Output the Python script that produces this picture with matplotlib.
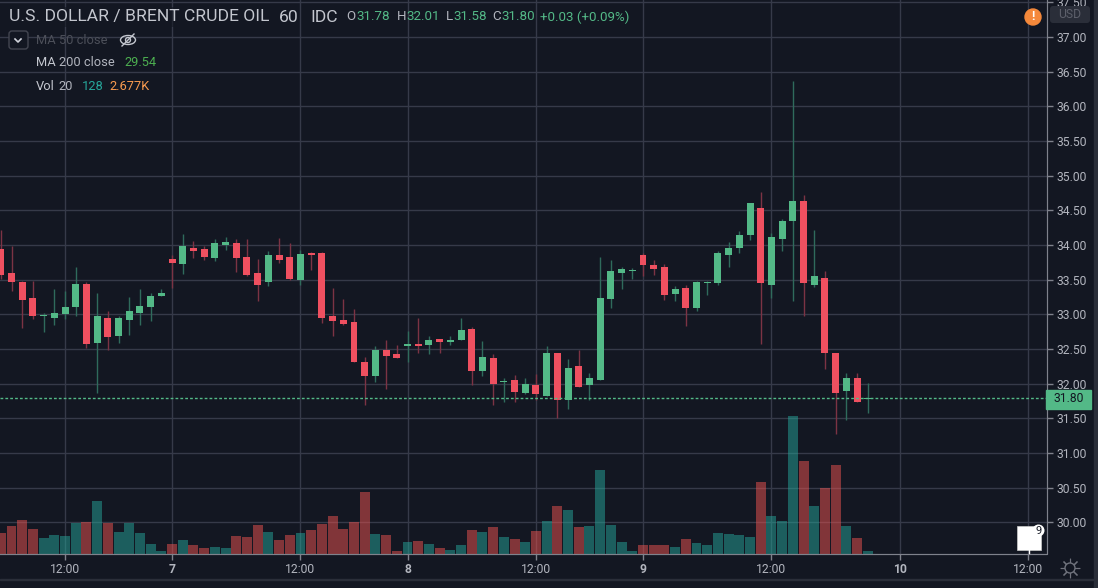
import matplotlib
matplotlib.use('Agg')
import matplotlib.pyplot as plt
from matplotlib.patches import Circle, Ellipse, FancyBboxPatch, Rectangle

plt.rcParams['font.family'] = ['Roboto', 'DejaVu Sans']

# Hourly candles
opens = [33.94, 33.60, 33.47, 33.24, 32.97, 32.95, 33.00, 33.11, 33.44, 32.59, 32.95, 32.69, 32.92, 33.02,
         33.10, 33.27, 33.80, 33.73, 33.96, 33.94, 33.81, 34.00, 34.03, 33.83, 33.60, 33.46, 33.86, 33.83,
         33.50, 33.89, 33.89, 32.97, 32.92, 32.89, 32.32, 32.11, 32.48, 32.43, 32.54, 32.57, 32.56, 32.64,
         32.60, 32.63, 32.79, 32.18, 32.37, 32.02, 32.06, 31.86, 31.98, 31.83, 32.45, 31.76, 32.25, 31.98,
         32.06, 33.22, 33.60, 33.63, 33.85, 33.71, 33.69, 33.30, 33.38, 33.09, 33.45, 33.45, 33.86, 33.95,
         34.14, 34.54, 33.43, 34.09, 34.34, 34.63, 33.43, 33.53, 32.45, 31.89, 32.09, 31.78]
highs = [34.22, 33.99, 33.48, 33.48, 33.02, 33.37, 33.34, 33.69, 33.47, 33.31, 33.05, 32.98, 33.25, 33.37,
         33.31, 33.37, 33.86, 34.16, 34.06, 33.99, 34.09, 34.12, 34.09, 34.09, 33.80, 33.92, 34.10, 34.03,
         33.93, 33.90, 33.90, 33.38, 33.22, 33.08, 32.38, 32.54, 32.63, 32.56, 32.76, 32.95, 32.69, 32.64,
         32.69, 32.95, 32.82, 32.61, 32.43, 32.09, 32.12, 32.08, 32.14, 32.54, 32.45, 32.35, 32.48, 32.15,
         33.83, 33.79, 33.69, 33.67, 33.89, 33.79, 33.73, 33.41, 33.43, 33.48, 33.48, 33.92, 34.05, 34.20,
         34.60, 34.77, 34.18, 34.38, 36.36, 34.72, 34.21, 33.62, 32.45, 32.15, 32.15, 32.01]
lows = [33.51, 33.33, 32.81, 32.94, 32.75, 32.85, 32.94, 32.97, 32.51, 31.87, 32.49, 32.59, 32.71, 32.84,
        32.91, 33.27, 33.38, 33.58, 33.81, 33.79, 33.77, 33.93, 33.61, 33.56, 33.20, 33.41, 33.74, 33.50,
        33.43, 33.64, 32.87, 32.69, 32.85, 32.31, 31.70, 32.02, 31.93, 32.37, 32.32, 32.44, 32.43, 32.44,
        32.56, 32.63, 31.98, 32.11, 31.69, 31.74, 31.74, 31.85, 31.76, 31.82, 31.50, 31.64, 31.95, 31.77,
        32.06, 33.09, 33.37, 33.51, 33.56, 33.57, 33.21, 33.19, 32.83, 33.05, 33.28, 33.42, 33.68, 33.88,
        34.07, 32.57, 33.24, 33.91, 33.19, 32.98, 33.39, 32.21, 31.27, 31.48, 31.74, 31.58]
closes = [33.57, 33.47, 33.21, 32.98, 32.98, 33.02, 33.11, 33.44, 32.58, 32.97, 32.68, 32.95, 33.05, 33.12,
          33.27, 33.31, 33.74, 33.99, 33.92, 33.83, 34.03, 34.04, 33.81, 33.57, 33.43, 33.86, 33.79, 33.51,
          33.87, 33.86, 32.95, 32.91, 32.86, 32.32, 32.11, 32.48, 32.40, 32.37, 32.58, 32.54, 32.63, 32.60,
          32.63, 32.77, 32.18, 32.38, 32.00, 32.03, 31.88, 31.99, 31.85, 32.44, 31.77, 32.22, 31.96, 32.09,
          33.24, 33.63, 33.66, 33.64, 33.71, 33.66, 33.28, 33.37, 33.09, 33.47, 33.47, 33.89, 33.95, 34.14,
          34.60, 33.45, 34.12, 34.34, 34.64, 33.45, 33.56, 32.44, 31.87, 32.09, 31.74, 31.80]
volumes = [1116, 1482, 1812, 1336, 842, 988, 952, 1684, 1738, 2855, 1665, 1153, 1684, 1116,
           512, 128, 494, 732, 458, 293, 348, 329, 952, 915, 1574, 1171, 750, 1025,
           1116, 1299, 1610, 2050, 1354, 1720, 3367, 1061, 1006, 128, 640, 677, 531, 293,
           183, 458, 1281, 1153, 1446, 897, 787, 604, 1208, 1793, 2580, 2361, 1427, 1501,
           4575, 1556, 604, 128, 458, 458, 458, 348, 787, 549, 458, 1098, 1061, 1006,
           897, 3898, 2031, 1757, 7558, 5051, 2599, 3587, 4850, 1519, 842, 128]

last_price = 31.80
price_ticks = [30.0, 30.5, 31.0, 31.5, 32.0, 32.5, 33.0, 33.5, 34.0, 34.5, 35.0, 35.5, 36.0, 36.5, 37.0, 37.5]
time_ticks = [6, 16, 28, 38, 50, 60, 72, 84, 96]
time_labels = ['12:00', '7', '12:00', '8', '12:00', '9', '12:00', '10', '12:00']

BG = '#131722'
GRID = '#363a49'
AXIS = '#7f828c'
TEXT = '#b2b5be'
UP = '#53b987'
DOWN = '#ef5060'
UP_WICK = '#2f6b5c'
DOWN_WICK = '#7c3344'
FRAME = '#2a2e39'

fig = plt.figure(figsize=(10.98, 5.88), dpi=100, facecolor=BG)

# Frame bits behind everything: strip down the right side, thin line along the bottom
back = fig.add_axes([0, 0, 1, 1], zorder=-1, facecolor='none')
back.set_xlim(0, 1098)
back.set_ylim(588, 0)
back.axis('off')
back.add_patch(Rectangle((1093.5, 0), 5, 588, color=FRAME))
back.add_patch(Rectangle((0, 579), 1094, 1, color=FRAME))

# Chart area runs to x=1046 and y=553 in pixels
ax = fig.add_axes([0, 1 - 553.5 / 588, 1046.5 / 1098, 553.5 / 588], facecolor=BG)
ax_vol = ax.twinx()

x = list(range(len(opens)))
up = [c >= o for o, c in zip(opens, closes)]

# Volume bars sit under the candles and let the grid show through
ax_vol.bar(x, volumes, width=0.93, color=['#26a69a' if u else '#ef5350' for u in up], alpha=0.5, linewidth=0)
ax_vol.set_yticks([])
ax_vol.set_ylim(0, 30360)

# Candles
wick_colors = [UP_WICK if u else DOWN_WICK for u in up]
body_colors = [UP if u else DOWN for u in up]
ax.vlines(x, lows, highs, colors=wick_colors, linewidth=1, zorder=3)
bottoms = [min(o, c) for o, c in zip(opens, closes)]
heights = [max(abs(c - o), 0.015) for o, c in zip(opens, closes)]
ax.bar(x, heights, bottom=bottoms, width=0.65, color=body_colors, linewidth=0, zorder=4)
ax.axhline(last_price, color=UP, linewidth=1, linestyle=(0, (2, 1.5)), zorder=5)

ax.set_axisbelow(True)
ax.grid(True, color=GRID, linewidth=1)
ax.set_yticks(price_ticks)
ax.set_yticklabels(['%.2f' % p for p in price_ticks])
ax.yaxis.tick_right()
ax.set_xticks(time_ticks)
ax.set_xticklabels(time_labels)
ax.set_xlim(-0.075, 97.7)
ax.set_ylim(29.553, 37.532)
ax.tick_params(axis='both', colors=AXIS, labelcolor=TEXT, labelsize=8.7, length=4, width=1)
ax.tick_params(axis='x', pad=2.7)
for lab in ax.get_xticklabels():
    if lab.get_text() != '12:00':
        lab.set_fontweight('bold')

for a in (ax, ax_vol):
    for side in ('top', 'left'):
        a.spines[side].set_visible(False)
    a.spines['right'].set_color(AXIS)
    a.spines['bottom'].set_color(AXIS)

# Overlay in pixel coordinates for the header text and the little widgets
ui = fig.add_axes([0, 0, 1, 1], facecolor='none')
ui.set_xlim(0, 1098)
ui.set_ylim(588, 0)
ui.axis('off')


def label(px, py, s, color=TEXT, size=8.7, **kw):
    ui.text(px, py, s, color=color, fontsize=size, va='center', **kw)


DIM_BOX = dict(facecolor=BG, edgecolor='none', alpha=0.6, pad=2)
label(9, 17, 'U.S. DOLLAR / BRENT CRUDE OIL', '#c3c6ce', 12.6, bbox=DIM_BOX)
label(279, 17, '60', '#c3c6ce', 12.6)
label(310, 17, 'IDC', '#c3c6ce', 12.6)
header = [(346, 'O', TEXT), (356, '31.78', UP), (397, 'H', TEXT), (406, '32.01', UP),
          (446, 'L', TEXT), (453, '31.58', UP), (492, 'C', TEXT), (501, '31.80', UP),
          (540, '+0.03 (+0.09%)', UP)]
for px, s, c in header:
    label(px, 17, s, c, 9.6)

label(36, 40, 'MA 50 close', '#4c4f59', 9.3)
label(36, 63, 'MA', '#c3c6ce', 9.3)
label(59, 63, '200 close', TEXT, 9.3)
label(124, 63, '29.54', '#4caf50', 9.3)
label(36, 87, 'Vol', '#c3c6ce', 9.3)
label(58, 87, '20', TEXT, 9.3)
label(82, 87, '128', '#26a69a', 9.3)
label(109, 87, '2.677K', '#f79a4f', 9.3)

# Collapse button
ui.add_patch(FancyBboxPatch((9, 31), 19, 18, boxstyle='round,pad=0,rounding_size=3',
                            facecolor=BG, edgecolor='#434651', linewidth=1, zorder=3))
ui.plot([15, 18, 21], [39, 42, 39], color='#d1d4dc', linewidth=1.2, zorder=4)
# Crossed-out eye
ui.add_patch(Ellipse((128, 40), 15, 9, facecolor='none', edgecolor='#c3c6ce', linewidth=1))
ui.add_patch(Circle((128, 40), 2.5, facecolor='none', edgecolor='#c3c6ce', linewidth=1))
ui.plot([122, 134], [46, 34], color='#c3c6ce', linewidth=1)

# Warning badge
ui.add_patch(Circle((1033, 17), 8, color='#f5893b', zorder=3))
ui.text(1033, 17, '!', color='white', fontsize=9, fontweight='bold', ha='center', va='center', zorder=4)

# USD box
ui.add_patch(FancyBboxPatch((1050, 6), 40, 17, boxstyle='round,pad=0,rounding_size=3',
                            facecolor=FRAME, edgecolor='none', zorder=3))
ui.text(1070, 14.5, 'USD', color='#5d606b', fontsize=8.7, ha='center', va='center', zorder=4)

# Last price tag
ui.add_patch(Rectangle((1046, 389.5), 45, 19, color=UP, zorder=3))
ui.text(1069, 399, '%.2f' % last_price, color='#131722', fontsize=8.7, ha='center', va='center', zorder=4)

# Event flag with its counter
ui.add_patch(Rectangle((1017, 526), 24, 24, facecolor='white', edgecolor='#cccccc', linewidth=0.5, zorder=3))
ui.plot([1029, 1029], [550, 553], color='white', linewidth=1, zorder=3)
ui.add_patch(Circle((1038.5, 530.5), 6, facecolor='white', edgecolor='none', zorder=4))
ui.text(1038.5, 530.5, '9', color='#131722', fontsize=8, ha='center', va='center', zorder=5)

# Settings gear
ui.plot([1070], [568], marker=(8, 2, 0), markersize=14, color='#6f727c', markeredgewidth=0.8, zorder=1.5)
ui.add_patch(Circle((1070, 568), 5, facecolor=BG, edgecolor='#6f727c', linewidth=1, zorder=2))

fig.savefig('out.png', dpi=100, facecolor=fig.get_facecolor())
